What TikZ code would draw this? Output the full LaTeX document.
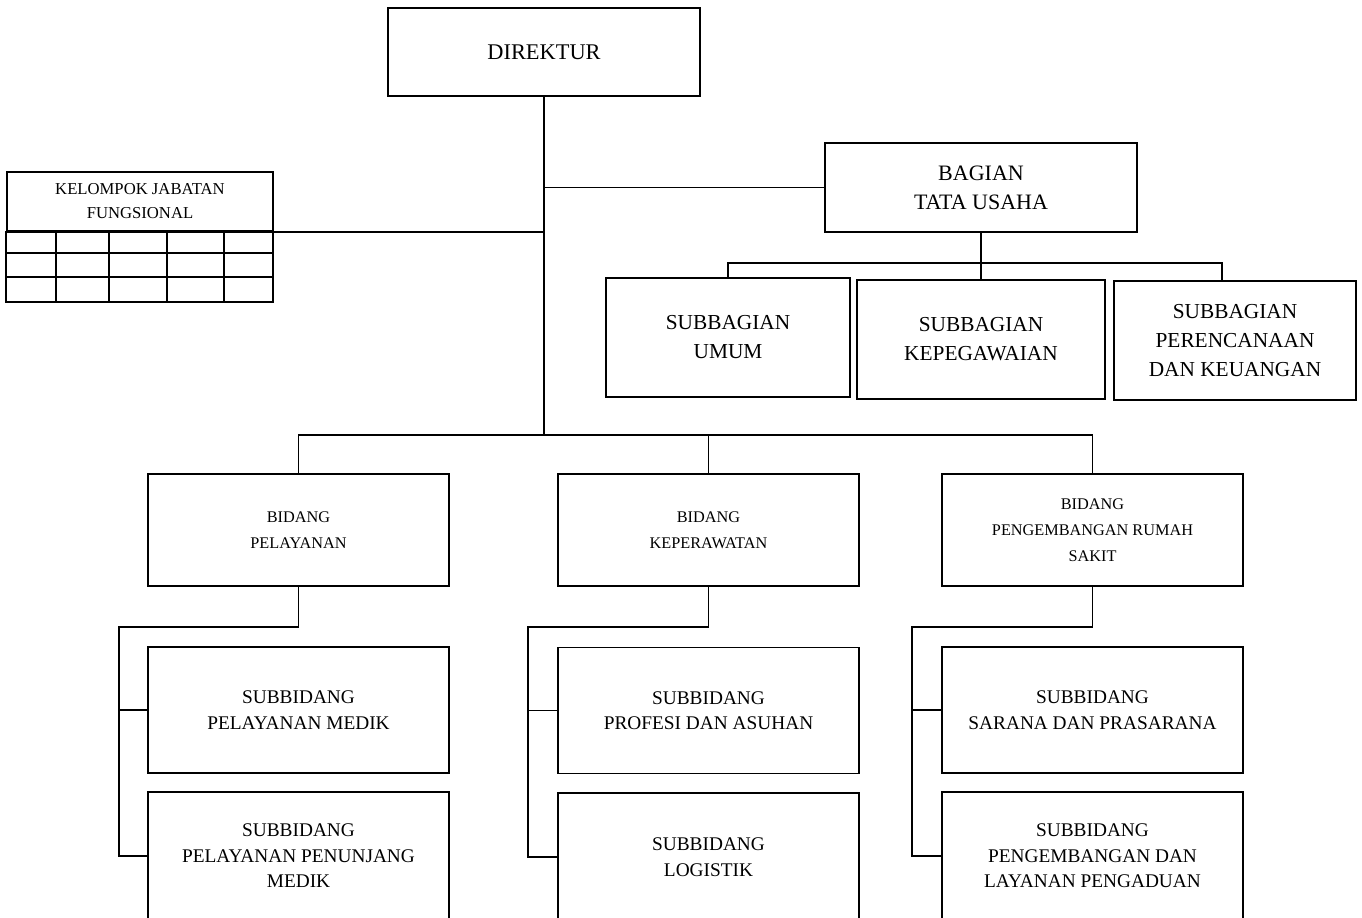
\documentclass[tikz,border=0pt]{standalone}
\usepackage{fontspec}
\setmainfont{Liberation Serif}
\usetikzlibrary{calc}
\tikzset{
  org chart/.style={
    x=0.75pt, y=-0.75pt,
    unit box/.style={draw, semithick, line width=1.3pt, inner sep=0pt, align=center},
    link/.style={line width=1.1pt},
  },
  top box/.style={unit box, minimum width=234pt, minimum height=66pt,
    font={\fontsize{16.8}{21}\selectfont}},
  bagian box/.style={unit box, minimum width=234pt, minimum height=67pt,
    font={\fontsize{16.5}{21.8}\selectfont}},
  sub box/.style={unit box, minimum width=183pt, minimum height=89pt,
    font={\fontsize{16}{21.8}\selectfont}},
  bidang box/.style={unit box, minimum width=225.75pt, minimum height=84pt,
    font={\fontsize{12.2}{19.5}\selectfont}},
  subbid box/.style={unit box, minimum width=225.75pt, minimum height=94.5pt,
    font={\fontsize{14.5}{19.2}\selectfont}},
  group box/.style={unit box, minimum width=199.5pt, minimum height=44.25pt,
    font={\fontsize{12.5}{18}\selectfont}},
}

\begin{document}
\begin{tikzpicture}[org chart]
    \useasboundingbox (0,0) rectangle (1362,917);

    % top
    \node[top box] (dir) at (544,52) {DIREKTUR};
    \node[bagian box] (tu) at (981,187.5) {BAGIAN\\TATA USAHA};
    \node[sub box, minimum width=183pt] (umum) at (728,337.5) {SUBBAGIAN\\UMUM};
    \node[sub box, minimum width=186pt] (pegawai) at (981,339.5) {SUBBAGIAN\\KEPEGAWAIAN};
    \node[sub box, minimum width=181.5pt] (uang) at (1235,340.5) {SUBBAGIAN\\PERENCANAAN\\DAN KEUANGAN};

    % kelompok jabatan fungsional
    \node[group box] (kjf) at (140,201.5) {KELOMPOK JABATAN\\FUNGSIONAL};
    \draw[unit box] (kjf.south west) rectangle (273,302);
    \foreach \y in {253,277}
        \draw[line width=1.3pt] (7,\y) -- (273,\y);
    \foreach \x in {56,109,167,224}
        \draw[line width=1.3pt] (\x,231) -- (\x,302);

    % bidang
    \node[bidang box] (pel) at (298.5,530) {BIDANG\\PELAYANAN};
    \node[bidang box] (kep) at (708.5,530) {BIDANG\\KEPERAWATAN};
    \node[bidang box] (pkrs) at (1092.5,530) {BIDANG\\PENGEMBANGAN RUMAH\\SAKIT};

    % subbidang
    \node[subbid box] (medik) at (298.5,710) {SUBBIDANG\\PELAYANAN MEDIK};
    \node[subbid box, minimum height=96pt] (tunjang) at (298.5,856) {SUBBIDANG\\PELAYANAN PENUNJANG\\MEDIK};
    \node[subbid box] (asuhan) at (708.5,710.5) {SUBBIDANG\\PROFESI DAN ASUHAN};
    \node[subbid box, minimum height=96pt] (logistik) at (708.5,857) {SUBBIDANG\\LOGISTIK};
    \node[subbid box] (sarana) at (1092.5,710) {SUBBIDANG\\SARANA DAN PRASARANA};
    \node[subbid box, minimum height=96pt] (aduan) at (1092.5,856) {SUBBIDANG\\PENGEMBANGAN DAN\\LAYANAN PENGADUAN};

    % connectors
    \coordinate (bus) at (544,435);
    \coordinate (tubus) at (981,263);
    \draw[link] (dir.south) -- (bus);
    \draw[link] (dir.south |- tu.west) -- (tu.west);
    \draw[link] (kjf.south east) -- (kjf.south east -| bus);
    \draw[link] (tu.south) -- (pegawai.north);
    \draw[link] (umum.north) |- (tubus) -| ($(uang.north)+(-13,0)$);
    \draw[link] (pel.north) |- (bus) -| (pkrs.north);
    \draw[link] (kep.north) -- (kep.north |- bus);

    \coordinate (lpel) at (119,627);
    \coordinate (lkep) at (528,627);
    \coordinate (lpkrs) at (912,627);
    \draw[link] (pel.south) |- (lpel) |- (medik.west);
    \draw[link] (lpel) |- (tunjang.west);
    \draw[link] (kep.south) |- (lkep) |- (asuhan.west);
    \draw[link] (lkep) |- (logistik.west);
    \draw[link] (pkrs.south) |- (lpkrs) |- (sarana.west);
    \draw[link] (lpkrs) |- (aduan.west);
\end{tikzpicture}
\end{document}
